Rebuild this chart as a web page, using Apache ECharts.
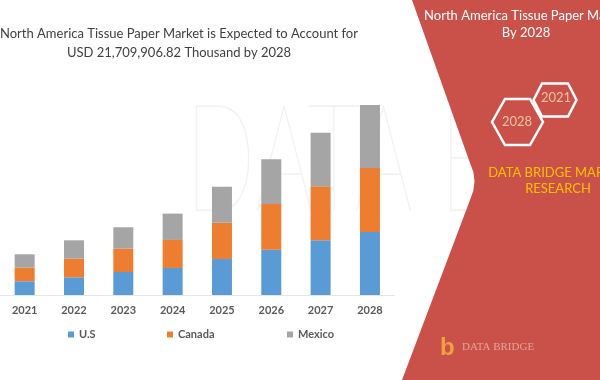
<!DOCTYPE html>
<html><head><meta charset="utf-8">
<script src="https://cdn.jsdelivr.net/npm/echarts@6/dist/echarts.min.js"></script>
<style>html,body{margin:0;padding:0;background:#fff}#c{width:600px;height:380px}</style>
</head><body><div id="c"></div>
<script>
// Values in USD billion
var categories = ['2021','2022','2023','2024','2025','2026','2027','2028'];
var usValues     = [1.57, 2.02, 2.63, 3.09, 4.11, 5.18, 6.25, 7.20];
var canadaValues = [1.55, 2.13, 2.66, 3.20, 4.15, 5.22, 6.17, 7.31];
var mexicoValues = [1.53, 2.10, 2.45, 3.01, 4.11, 5.11, 6.12, 7.20];
var seriesNames = ['U.S', 'Canada', 'Mexico'];
var titleLines = ['North America Tissue Paper Market is Expected to Account for', 'USD 21,709,906.82 Thousand by 2028'];

var chart = echarts.init(document.getElementById('c'), null, {renderer: 'canvas'});
var font = 'Lato, "Open Sans", sans-serif';
var colors = ['#5B9BD5', '#ED7D31', '#A5A5A5'];
var vals = [usValues, canadaValues, mexicoValues];

function legendFor(i, left) {
  return {
    data: [seriesNames[i]], left: left, top: 324, icon: 'rect', itemWidth: 6, itemHeight: 6, itemGap: 4,
    textStyle: {color: '#595959', fontSize: 11, fontWeight: 'bold', fontFamily: font}
  };
}

chart.setOption({
  animation: false,
  color: colors,
  title: {
    text: titleLines.join('\n'), left: 174, top: 19, textAlign: 'center',
    textStyle: {fontSize: 13, fontWeight: 'normal', color: '#404040', fontFamily: font, lineHeight: 19}
  },
  legend: [legendFor(0, 63), legendFor(1, 162), legendFor(2, 282)],
  grid: {left: -10.3, width: 404.9, top: 76.2, bottom: 85},
  xAxis: {
    type: 'category', data: categories,
    axisLine: {lineStyle: {color: '#e6e6e6'}}, axisTick: {show: false},
    axisLabel: {color: '#595959', fontSize: 11, fontWeight: 'bold', fontFamily: font, margin: 10}
  },
  yAxis: {type: 'value', min: 0, max: 25, show: false, splitLine: {show: false}},
  graphic: [
    {type: 'text', z: 0, x: 185, y: 88, scaleX: 0.62, style: {text: 'DATA BRIDGE', fontSize: 150, fontFamily: 'Lato', fontWeight: 100, fill: '#f1f1f1', verticalAlign: 'top'}},
    {type: 'polygon', z: 10, shape: {points: [[412,0],[600,0],[600,380],[402,380],[470,200],[473.4,190.6],[474.5,181.3],[473.4,172.1],[470,163]]}, style: {fill: '#C9514A'}},
    {type: 'text', z: 11, x: 526, y: 7, style: {text: 'North America Tissue Paper Market\nBy 2028', fill: '#ffffff', fontSize: 13, fontFamily: font, align: 'center', lineHeight: 17}},
    {type: 'polygon', z: 11, shape: {points: [[533.5,100],[542,83.5],[568,83.5],[576.5,100],[568,116.5],[542,116.5]]}, style: {fill: 'none', stroke: '#ffffff', lineWidth: 2.5}},
    {type: 'polygon', z: 12, shape: {points: [[492,122],[505,99],[530,99],[543,122],[530,145],[505,145]]}, style: {fill: 'none', stroke: '#ffffff', lineWidth: 2.5}},
    {type: 'text', z: 12, x: 556, y: 98, style: {text: '2021', fill: '#E8C3A6', fontSize: 13, fontFamily: font, align: 'center', verticalAlign: 'middle'}},
    {type: 'text', z: 12, x: 517, y: 122, style: {text: '2028', fill: '#E8C3A6', fontSize: 13, fontFamily: font, align: 'center', verticalAlign: 'middle'}},
    {type: 'text', z: 12, x: 558, y: 165, style: {text: 'DATA BRIDGE MARKET\nRESEARCH', fill: '#FFC000', fontSize: 13, fontFamily: font, align: 'center', lineHeight: 16}},
    {type: 'text', z: 12, x: 462, y: 341, style: {text: 'DATA BRIDGE', fill: '#e7a39a', fontSize: 11, fontFamily: 'Liberation Serif', lineHeight: 12}},
    {type: 'text', z: 12, x: 440, y: 336, style: {text: 'b', fill: '#F0A040', fontSize: 24, fontWeight: 'bold', fontFamily: 'Liberation Sans'}}
  ],
  series: seriesNames.map(function (n, i) {
    return {name: n, type: 'bar', stack: 'total', barWidth: 20, data: vals[i], itemStyle: {color: colors[i]}};
  })
});
</script></body></html>
